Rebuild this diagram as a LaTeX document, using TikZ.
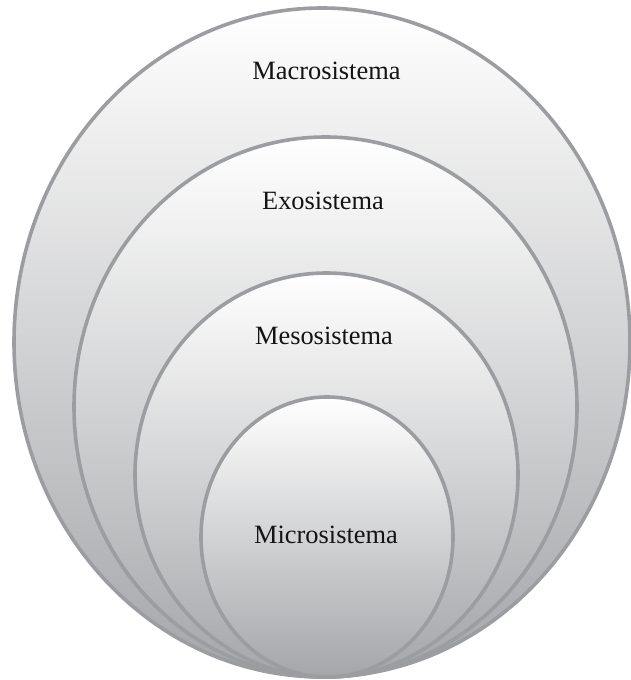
\documentclass[tikz,border=0pt]{standalone}
\usepackage{fontspec}
\setmainfont{Liberation Serif}
\definecolor{ringline}{RGB}{156,157,161}
\definecolor{ringbottom}{RGB}{165,166,169}
\begin{document}
\begin{tikzpicture}[x=1pt,y=-1pt,
  ring/.style={draw=ringline, line width=3.6pt, top color=white, bottom color=ringbottom},
  lab/.style={font=\fontsize{26.4}{28}\selectfont, text=black!92, anchor=base, inner sep=0pt}]
\useasboundingbox (0,0) rectangle (631,680);
\path[ring] (322,342.5) ellipse [x radius=308, y radius=334.5];
\path[ring] (325.5,407) ellipse [x radius=251.5, y radius=270];
\path[ring] (326.5,475) ellipse [x radius=191.5, y radius=202];
\path[ring] (327,537) ellipse [x radius=126, y radius=140];
\node[lab] (macro) at (326.5,79) {Macrosistema};
\node[lab] (exo) at (323,209) {Exosistema};
\node[lab] (meso) at (324,344) {Mesosistema};
\node[lab] (micro) at (326,543) {Microsistema};
\end{tikzpicture}
\end{document}
